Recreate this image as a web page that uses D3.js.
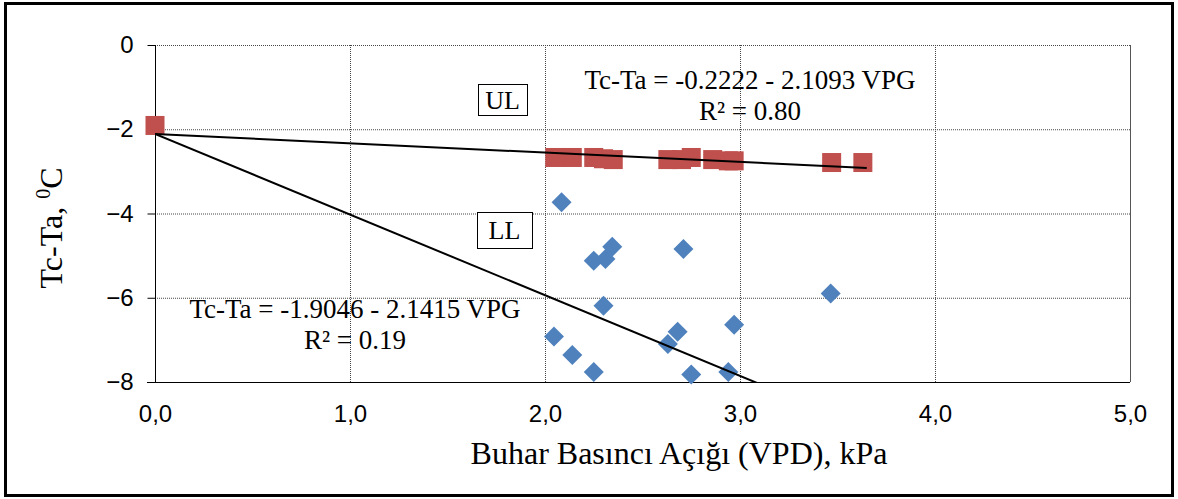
<!DOCTYPE html>
<html>
<head>
<meta charset="utf-8">
<script src="https://cdn.jsdelivr.net/npm/d3@7"></script>
<style>
  body { margin: 0; background: #fff; }
  svg { display: block; }
</style>
</head>
<body>
<svg></svg>
<script>
/* jslint esversion:6 */

// upper limit (UL) points, red squares: [VPD, Tc-Ta]
var ulPoints = [
  [0.00, -1.91], [2.05, -2.67], [2.14, -2.67], [2.25, -2.67], [2.30, -2.70],
  [2.35, -2.72], [2.63, -2.72], [2.70, -2.72], [2.75, -2.67], [2.86, -2.72],
  [2.94, -2.75], [2.97, -2.75], [3.47, -2.79], [3.63, -2.79]
];

// lower limit (LL) points, blue diamonds
var llPoints = [
  [2.085, -3.73], [2.25, -5.12], [2.31, -5.08], [2.345, -4.79], [2.71, -4.84],
  [3.465, -5.90], [2.30, -6.19], [2.046, -6.92], [2.14, -7.36], [2.25, -7.76],
  [2.68, -6.81], [2.63, -7.10], [2.97, -6.64], [2.75, -7.82], [2.94, -7.76]
];

// fitted lines as drawn: intercept, slope, x range
var ulFit = { a: -2.11, b: -0.222, x0: 0, x1: 3.65 };
var llFit = { a: -2.11, b: -1.915, x0: 0, x1: 3.65 };

var xTicks = [0, 1, 2, 3, 4, 5];
var yTicks = [0, -2, -4, -6, -8];

var ulEquation = ["Tc-Ta = -0.2222 - 2.1093 VPG", "R² = 0.80"];
var llEquation = ["Tc-Ta = -1.9046 - 2.1415 VPG", "R² = 0.19"];

document.addEventListener("DOMContentLoaded", function() {

  var width = 1178;
  var height = 499;
  var left = 155, right = 1130, top = 45, bottom = 382;

  var serif = "'Liberation Serif', 'Times New Roman', serif";
  var sans = "'Liberation Sans', Arial, sans-serif";

  var svg = d3.select("svg")
      .attr("width", width)
      .attr("height", height);

  // outer frame
  svg.append("rect")
      .attr("x", 5.5).attr("y", 3.5)
      .attr("width", 1167).attr("height", 492)
      .attr("fill", "#fff")
      .attr("stroke", "#000")
      .attr("stroke-width", 3);

  var xScale = d3.scaleLinear().domain([0, 5]).range([left, right]);
  var yScale = d3.scaleLinear().domain([-8, 0]).range([bottom, top]);

  // grid
  svg.append("g")
    .selectAll("line")
    .data(yTicks.filter(d => d !== -8))
    .enter()
    .append("line")
      .attr("x1", left).attr("x2", right)
      .attr("y1", d => yScale(d) + 0.5).attr("y2", d => yScale(d) + 0.5)
      .attr("stroke", "#444")
      .attr("stroke-dasharray", "1,1");

  svg.append("g")
    .selectAll("line")
    .data(xTicks.filter(d => d !== 0 && d !== 5))
    .enter()
    .append("line")
      .attr("x1", d => xScale(d) + 0.5).attr("x2", d => xScale(d) + 0.5)
      .attr("y1", top).attr("y2", bottom)
      .attr("stroke", "#444")
      .attr("stroke-dasharray", "1,1");

  // right frame edge
  svg.append("line")
      .attr("x1", right + 0.5).attr("x2", right + 0.5)
      .attr("y1", top).attr("y2", bottom)
      .attr("stroke", "#555");

  // axes
  var yAxis = d3.axisLeft(yScale)
      .tickValues(yTicks)
      .tickSize(8)
      .tickPadding(14)
      .tickFormat(d3.format("d"));

  var xAxis = d3.axisBottom(xScale)
      .tickValues(xTicks)
      .tickSize(0)
      .tickPadding(22)
      .tickFormat(d => d.toFixed(1).replace(".", ","));

  var gy = svg.append("g")
      .attr("transform", "translate(" + (left + 0.5) + ",0)")
      .call(yAxis);
  gy.select(".domain").attr("d", "M0," + top + "V" + (bottom + 0.5));

  var gx = svg.append("g")
      .attr("transform", "translate(0," + (bottom + 0.5) + ")")
      .call(xAxis);
  gx.select(".domain").attr("d", "M" + (left - 8) + ",0H" + right);

  svg.selectAll(".tick text")
      .style("font-family", sans)
      .style("font-size", "24px")
      .attr("fill", "#000");

  // points
  svg.append("g")
    .selectAll("rect")
    .data(ulPoints)
    .enter()
    .append("rect")
      .attr("x", d => xScale(d[0]) - 9.5)
      .attr("y", d => yScale(d[1]) - 9.5)
      .attr("width", 19).attr("height", 19)
      .attr("fill", "#C0504D");

  var diamond = d3.symbol().type(d3.symbolSquare).size(200);
  svg.append("g")
    .selectAll("path")
    .data(llPoints)
    .enter()
    .append("path")
      .attr("d", diamond)
      .attr("transform", d => "translate(" + xScale(d[0]) + "," + yScale(d[1]) + ") rotate(45)")
      .attr("fill", "#4F81BD");

  // fitted lines, clipped to plot area
  svg.append("clipPath").attr("id", "plotClip")
    .append("rect")
      .attr("x", left).attr("y", top)
      .attr("width", right - left).attr("height", bottom - top);

  var line = d3.line()
      .x(d => xScale(d[0]))
      .y(d => yScale(d[1]));

  [ulFit, llFit].forEach(function(f) {
    svg.append("path")
        .datum([[f.x0, f.a + f.b * f.x0], [f.x1, f.a + f.b * f.x1]])
        .attr("d", line)
        .attr("clip-path", "url(#plotClip)")
        .attr("fill", "none")
        .attr("stroke", "#000")
        .attr("stroke-width", 2);
  });

  // equations
  function equation(lines, cx, y0) {
    svg.append("g").selectAll("text")
      .data(lines)
      .enter()
      .append("text")
        .text(d => d)
        .attr("x", cx)
        .attr("y", (d, i) => y0 + i * 31)
        .attr("text-anchor", "middle")
        .style("font-family", serif)
        .style("font-size", "27px");
  }
  equation(ulEquation, 750, 89);
  equation(llEquation, 355, 318);

  // UL / LL boxes
  function labelBox(txt, x, y, w, h) {
    svg.append("rect")
        .attr("x", x + 0.5).attr("y", y + 0.5)
        .attr("width", w).attr("height", h)
        .attr("fill", "#fff")
        .attr("stroke", "#000");
    svg.append("text")
        .text(txt)
        .attr("x", x + w / 2)
        .attr("y", y + h / 2 + 9)
        .attr("text-anchor", "middle")
        .style("font-family", serif)
        .style("font-size", "26px");
  }
  labelBox("UL", 478, 84, 49, 31);
  labelBox("LL", 477, 212, 55, 36);

  // axis titles
  svg.append("text")
      .text("Buhar Basıncı Açığı (VPD), kPa")
      .attr("x", 679)
      .attr("y", 464)
      .attr("text-anchor", "middle")
      .style("font-family", serif)
      .style("font-size", "32px");

  var yt = svg.append("text")
      .attr("transform", "translate(62,228) rotate(-90)")
      .attr("text-anchor", "middle")
      .style("font-family", serif)
      .style("font-size", "32px");
  yt.append("tspan").text("Tc-Ta, ");
  yt.append("tspan").text("0").attr("dy", -12).style("font-size", "20px");
  yt.append("tspan").text("C").attr("dy", 12);
});
</script>
</body>
</html>
